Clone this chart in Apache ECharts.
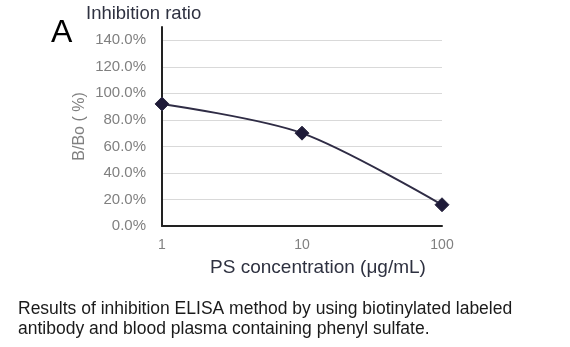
<!DOCTYPE html>
<html>
<head>
<meta charset="utf-8">
<script src="https://cdn.jsdelivr.net/npm/echarts@6/dist/echarts.min.js"></script>
<style>html,body{margin:0;padding:0;background:#fff;}#c{width:570px;height:347px;}</style>
</head>
<body>
<div id="c"></div>
<script>
var concentrations = [1, 10, 100];
var ratios = [92, 70, 16];
var xTickLabels = ['1', '10', '100'];
var panelLabel = 'A';
var chartTitle = 'Inhibition ratio';
var yAxisName = 'B/Bo ( %)';
var xAxisName = 'PS concentration (\u03bcg/mL)';
var caption = 'Results of inhibition ELISA method by using biotinylated labeled\nantibody and blood plasma containing phenyl sulfate.';

var points = concentrations.map(function (c, i) { return [c, ratios[i]]; });
var font = 'Liberation Sans, Arial, sans-serif';

var chart = echarts.init(document.getElementById('c'), null, {renderer: 'canvas'});
chart.setOption({
  animation: false,
  backgroundColor: '#ffffff',
  title: [
    {text: panelLabel, left: 46, top: 12, textStyle: {fontFamily: font, fontSize: 32, fontWeight: 'normal', color: '#000'}},
    {text: chartTitle, left: 81, top: -1, textStyle: {fontFamily: font, fontSize: 18.5, fontWeight: 'normal', color: '#2e3140'}},
    {text: caption, left: 13, top: 294, textStyle: {fontFamily: font, fontSize: 17.5, fontWeight: 'normal', color: '#1a1a1a', lineHeight: 20}}
  ],
  grid: {left: 162, top: 27, right: 128, bottom: 121},
  xAxis: {
    type: 'log', logBase: 10, min: 1, max: 100,
    name: xAxisName, nameLocation: 'middle', nameGap: 32,
    nameTextStyle: {fontFamily: font, fontSize: 19, color: '#2e3140', padding: [0, 0, 0, 32], verticalAlign: 'top'},
    axisLine: {show: true, lineStyle: {color: '#222', width: 2}},
    axisTick: {show: false},
    splitLine: {show: false},
    axisLabel: {fontFamily: font, fontSize: 14, color: '#808080', margin: 12,
      formatter: function (v) { var i = concentrations.indexOf(v); return i >= 0 ? xTickLabels[i] : ''; }}
  },
  yAxis: {
    type: 'value', min: 0, max: 150, interval: 20,
    name: yAxisName, nameLocation: 'middle', nameGap: 74, nameRotate: 90,
    nameTextStyle: {fontFamily: font, fontSize: 16, color: '#808080'},
    axisLine: {show: true, lineStyle: {color: '#222', width: 2}},
    axisTick: {show: false},
    splitLine: {show: true, showMaxLine: false, lineStyle: {color: '#d9d9d9', width: 1}},
    axisLabel: {fontFamily: font, fontSize: 15, color: '#808080', margin: 16, showMaxLabel: false,
      formatter: function (v) { return v % 20 === 0 ? v.toFixed(1) + '%' : ''; }}
  },
  series: [{
    type: 'line',
    data: points,
    smooth: 0.3,
    symbol: 'diamond',
    symbolSize: 14,
    lineStyle: {color: '#2f2c45', width: 2},
    itemStyle: {color: '#1e1a38', borderColor: '#2f2c45', borderWidth: 1}
  }]
});
</script>
</body>
</html>
